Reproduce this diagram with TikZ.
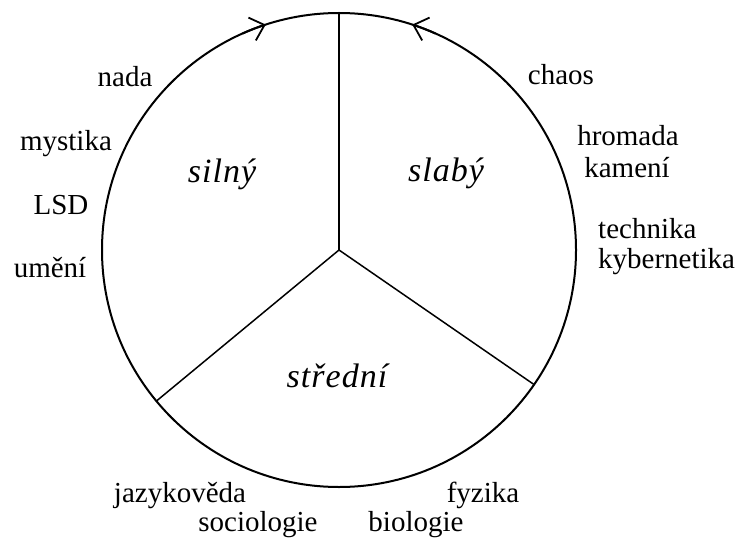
\documentclass[tikz,border=0pt]{standalone}
\usepackage{fontspec}
\setmainfont{Liberation Serif}
\newfontfamily\sectorfont[LetterSpace=3]{Liberation Serif}
\usepackage{tikz}
\usetikzlibrary{arrows.meta,calc}

\begin{document}
\begin{tikzpicture}[
    x=1pt, y=1pt,
    rim/.style={draw, line width=2pt},
    spoke/.style={draw, line width=1.5pt},
    flow/.style={line width=2pt, -{Straight Barb[length=13pt, width=24pt, line width=1.8pt]}},
    word/.style={anchor=base, inner sep=0pt, font=\fontsize{29}{33}\selectfont},
    sector/.style={anchor=base, inner sep=0pt, font=\sectorfont\itshape\fontsize{34}{38}\selectfont}
  ]
  \useasboundingbox (0,0) rectangle (741,539);

  % Circle and spokes
  \coordinate (c) at (339,289);
  \draw[rim] (c) circle (237);
  \coordinate (top) at ($(c)+(90:237)$);
  \coordinate (lowl) at ($(c)+(219.6:237)$);
  \coordinate (lowr) at ($(c)+(-34.6:237)$);
  \draw[spoke] (c) -- (top);
  \draw[spoke] (c) -- (lowl);
  \draw[spoke] (c) -- (lowr);

  % Arrows towards the top
  \coordinate (al) at ($(c)+(114:237)$);
  \coordinate (ar) at ($(c)+(66:237)$);
  \draw[flow] (al) arc (114:108:237);
  \draw[flow] (ar) arc (66:72:237);

  % Sectors
  \node[sector] (silny) at (222,356) {silný};
  \node[sector] (slaby) at (446,357) {slabý};
  \node[sector] (stredni) at (337,152) {střední};

  % Words round the circle
  \foreach \n/\x/\y/\t in {nada/125/452/nada, mystika/66/388/mystika, lsd/61/324/LSD,
      umeni/50/262/umění, chaos/561/454/chaos, hromada/628/393/hromada,
      kameni/627/361/kamení, jazykoveda/180/37/jazykověda, sociologie/258/8/sociologie,
      fyzika/483/37/fyzika, biologie/416/8/biologie} {
    \node[word] (\n) at (\x,\y) {\t};
  }
  \node[word, anchor=base west] (technika) at (598,301) {technika};
  \node[word, anchor=base west] (kybernetika) at (598,271) {kybernetika};
\end{tikzpicture}
\end{document}
